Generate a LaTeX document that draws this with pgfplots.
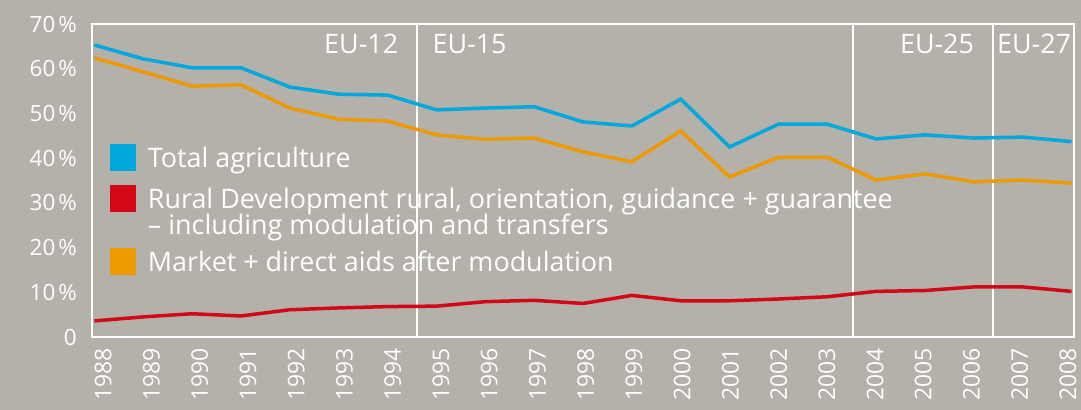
\documentclass[border=0pt]{standalone}
\usepackage{pgfplots}
\pgfplotsset{compat=1.18}
\usepackage{fontspec}
\setmainfont{Open Sans}
\definecolor{bg}{RGB}{180,176,170}
\definecolor{cyanc}{RGB}{0,168,222}
\definecolor{redc}{RGB}{210,8,22}
\definecolor{orangec}{RGB}{236,154,0}
\newcommand{\legf}{\fontsize{27}{27}\selectfont}
\newcommand{\ytf}{\fontsize{22.5}{25}\selectfont}
\newcommand{\xtf}{\fontsize{23}{25}\selectfont}
\newcommand{\st}[1]{\rule[-6.5bp]{0pt}{\dimexpr#1+6.5bp\relax}}
\begin{document}
\begin{tikzpicture}
\fill[bg] (0,0) rectangle (1081bp,410bp);
\useasboundingbox (0,0) rectangle (1081bp,410bp);
\begin{axis}[
  at={(92bp,73bp)}, anchor=south west,
  scale only axis, width=982bp, height=313bp,
  xmin=1987.95, xmax=2008.05, ymin=0, ymax=70,
  axis line style={white, line width=2bp},
  clip=false,
  major tick length=0pt, tick style={draw=none},
  xtick={1988.181,1989.168,1990.156,1991.143,1992.130,1993.118,1994.105,1995.092,1996.079,1997.067,1998.054,1999.041,2000.029,2001.016,2002.003,2002.991,2003.978,2004.965,2005.952,2006.940,2007.927},
  xticklabels={1988,1989,1990,1991,1992,1993,1994,1995,1996,1997,1998,1999,2000,2001,2002,2003,2004,2005,2006,2007,2008},
  xticklabel style={rotate=90, anchor=east, inner sep=0pt, xshift=-11bp, font=\xtf, text=white},
  ytick={0,10,20,30,40,50,60,70},
  yticklabels={0,10\hspace{3bp}\%,20\hspace{3bp}\%,30\hspace{3bp}\%,40\hspace{3bp}\%,50\hspace{3bp}\%,60\hspace{3bp}\%,70\hspace{3bp}\%},
  yticklabel style={anchor=east, inner sep=0pt, xshift=-15bp, font=\ytf, text=white},
  /pgf/number format/assume math mode=true,
  legend style={at={(rel axis cs:0.0183,0.616)}, anchor=north west, draw=none, fill=none,
    inner sep=0pt, outer sep=0pt, font=\legf, text=white, column sep=9.5bp, row sep=0pt,
    cells={anchor=base west, inner sep=0pt}},
  legend image code/.code={\fill[#1] (0bp,-1.5bp) rectangle (23bp,21.5bp);},
]
\addplot[white, line width=2bp, forget plot] coordinates {(1994.6,0) (1994.6,70)};
\addplot[white, line width=2bp, forget plot] coordinates {(2003.53,0) (2003.53,70)};
\addplot[white, line width=2bp, forget plot] coordinates {(2006.39,0) (2006.39,70)};

\addplot[color=cyanc, line width=3.5bp] coordinates {
(1988,65.3) (1989,62.2) (1990,60.2) (1991,60.2) (1992,55.9) (1993,54.3) (1994,54.1)
(1995,50.8) (1996,51.2) (1997,51.5) (1998,48.1) (1999,47.2) (2000,53.2) (2001,42.5)
(2002,47.6) (2003,47.6) (2004,44.3) (2005,45.2) (2006,44.5) (2007,44.7) (2008,43.7)};
\addlegendentry{\st{21.5bp}\smash{Total agriculture}}

\addplot[color=redc, line width=3.5bp] coordinates {
(1988,3.6) (1989,4.5) (1990,5.2) (1991,4.7) (1992,6.1) (1993,6.5) (1994,6.8)
(1995,6.9) (1996,7.9) (1997,8.2) (1998,7.5) (1999,9.3) (2000,8.1) (2001,8.1)
(2002,8.5) (2003,9.0) (2004,10.2) (2005,10.4) (2006,11.2) (2007,11.2) (2008,10.2)};
\addlegendentry{\st{35.5bp}\smash{Rural Development rural, orientation, guidance + guarantee}}
\addlegendimage{empty legend}
\addlegendentry{\st{20.1bp}\smash{– including modulation and transfers}}

\addplot[color=orangec, line width=3.5bp] coordinates {
(1988,62.4) (1989,59.3) (1990,56.1) (1991,56.4) (1992,51.2) (1993,48.7) (1994,48.3)
(1995,45.2) (1996,44.2) (1997,44.5) (1998,41.4) (1999,39.2) (2000,46.1) (2001,35.8)
(2002,40.2) (2003,40.2) (2004,35.1) (2005,36.5) (2006,34.7) (2007,35.1) (2008,34.4)};
\addlegendentry{\st{31.9bp}\smash{Market + direct aids after modulation}}

\node[anchor=base east, inner sep=0pt, text=white, font=\legf, xshift=-18.5bp] at (axis cs:1994.6,63.45) {EU-12};
\node[anchor=base west, inner sep=0pt, text=white, font=\legf, xshift=15.5bp] at (axis cs:1994.6,63.45) {EU-15};
\node[anchor=base east, inner sep=0pt, text=white, font=\legf, xshift=-18.7bp] at (axis cs:2006.39,63.45) {EU-25};
\node[anchor=base west, inner sep=0pt, text=white, font=\legf, xshift=4bp] at (axis cs:2006.39,63.45) {EU-27};
\end{axis}
\end{tikzpicture}
\end{document}
